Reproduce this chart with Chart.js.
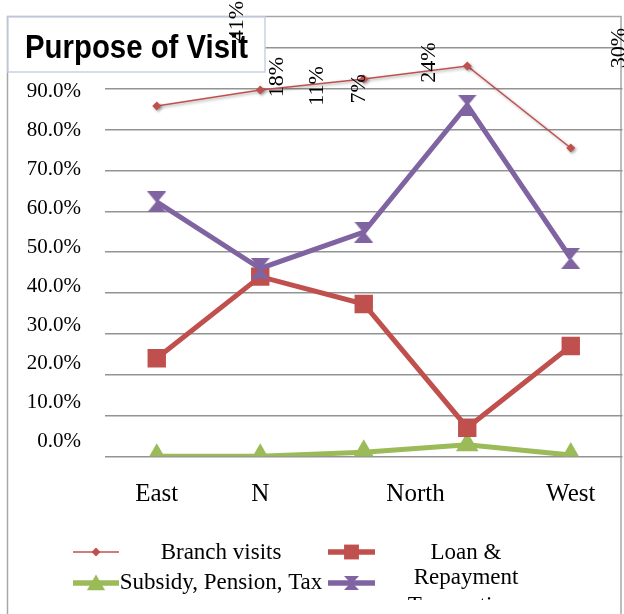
<!DOCTYPE html>
<html>
<head>
<meta charset="utf-8">
<title>Purpose of Visit</title>
<script src="https://cdn.jsdelivr.net/npm/chart.js@4.4.1/dist/chart.umd.min.js"></script>
<style>
  html, body { margin: 0; padding: 0; background: #fff; }
  #wrap { width: 624px; height: 614px; }
</style>
</head>
<body>
<div id="wrap"><canvas id="visitChart" width="624" height="614"></canvas></div>
<script>
// region axis: five stops, four printed names
const regionTickAt = [0, 1, 2.5, 4];
const regionLabels = ['East', 'N', 'North', 'West'];

// share of visits per purpose (fractions)
const branchVisits      = [0.858, 0.897, 0.924, 0.956, 0.755];
const loanRepayment     = [0.240, 0.440, 0.373, 0.070, 0.270];
const subsidyPensionTax = [0.000, 0.000, 0.010, 0.028, 0.003];
const transactions      = [0.623, 0.460, 0.549, 0.860, 0.485];

const percentTicks = [0, 0.1, 0.2, 0.3, 0.4, 0.5, 0.6, 0.7, 0.8, 0.9, 1.0];

// loose vertical labels floating over the top of the plot
const sideLabels = ['41%', '18%', '11%', '7%', '24%', '30%'];
const sideLabelSpots = [[0.78, 1.066], [1.16, 0.929], [1.55, 0.907], [1.96, 0.90], [2.63, 0.964], [4.47, 1.0]];

const RED = '#c0504d', GREEN = '#9bbb59', PURPLE = '#8064a2';
const SERIF = "'Liberation Serif', 'Times New Roman', serif";

function hourglass(color, w, h) {
    const c = document.createElement('canvas');
    c.width = w; c.height = h;
    const g = c.getContext('2d');
    g.fillStyle = color;
    g.beginPath(); g.moveTo(0, 0); g.lineTo(w, 0); g.lineTo(w / 2, h / 2 + 1); g.closePath(); g.fill();
    g.beginPath(); g.moveTo(0, h); g.lineTo(w, h); g.lineTo(w / 2, h / 2 - 1); g.closePath(); g.fill();
    return c;
}
const purpleMark = hourglass(PURPLE, 19, 21);
const purpleMarkSmall = hourglass(PURPLE, 15, 14);

const toPoints = arr => arr.map((v, i) => ({ x: i, y: v }));

// outer frame behind everything
const framePlugin = {
    id: 'frame',
    beforeDraw(chart) {
        const ctx = chart.ctx;
        ctx.save();
        ctx.fillStyle = '#fff';
        ctx.fillRect(0, 0, chart.width, chart.height);
        ctx.strokeStyle = '#a6a6a6';
        ctx.lineWidth = 1.5;
        ctx.strokeRect(7.5, 16.5, 613.5, chart.height + 10);
        ctx.restore();
    }
};

// soft shadow under the thin branch line
const shadowPlugin = {
    id: 'thinShadow',
    beforeDatasetDraw(chart, args) {
        if (args.index !== 0) return;
        const ctx = chart.ctx;
        ctx.save();
        ctx.shadowColor = 'rgba(0,0,0,0.35)';
        ctx.shadowBlur = 3;
        ctx.shadowOffsetX = 1.5;
        ctx.shadowOffsetY = 1.5;
    },
    afterDatasetDraw(chart, args) {
        if (args.index === 0) chart.ctx.restore();
    }
};

// title box, rotated labels and the two-column legend
const overlayPlugin = {
    id: 'overlay',
    afterDraw(chart) {
        const ctx = chart.ctx;
        const xs = chart.scales.x, ys = chart.scales.y;

        ctx.save();
        ctx.fillStyle = '#fff';
        ctx.fillRect(8, 17, 257, 55);
        ctx.strokeStyle = '#c9d1e3';
        ctx.lineWidth = 1.5;
        ctx.strokeRect(8, 17, 257, 55);
        ctx.fillStyle = '#000';
        ctx.font = "bold 33px 'Liberation Sans Narrow', 'Liberation Sans', sans-serif";
        ctx.textBaseline = 'alphabetic';
        ctx.textAlign = 'left';
        ctx.fillText('Purpose of Visit', 25, 58, 223);
        ctx.restore();

        ctx.save();
        ctx.fillStyle = '#000';
        ctx.font = '22px ' + SERIF;
        ctx.textAlign = 'center';
        ctx.textBaseline = 'middle';
        sideLabels.forEach((t, i) => {
            const [vx, vy] = sideLabelSpots[i];
            ctx.save();
            ctx.translate(xs.getPixelForValue(vx), ys.getPixelForValue(vy));
            ctx.rotate(-Math.PI / 2);
            ctx.fillText(t, 0, 0);
            ctx.restore();
        });
        ctx.restore();

        // legend
        ctx.save();
        ctx.beginPath();
        ctx.rect(0, 0, chart.width, 600);
        ctx.clip();
        const ds = chart.data.datasets;
        const entries = [
            { d: ds[0], x0: 73, x1: 119, y: 552, lw: 1.5, mark: 'rectRot', r: 4.5 },
            { d: ds[2], x0: 73, x1: 119, y: 583, lw: 5.5, mark: 'triangle', r: 10.5 },
            { d: ds[1], x0: 328, x1: 375, y: 552, lw: 5.5, mark: 'rect', r: 10.5 },
            { d: ds[3], x0: 328, x1: 375, y: 583, lw: 5.5, mark: 'img' }
        ];
        entries.forEach(e => {
            ctx.strokeStyle = e.d.borderColor;
            ctx.fillStyle = e.d.borderColor;
            ctx.lineWidth = e.lw;
            ctx.beginPath();
            ctx.moveTo(e.x0, e.y);
            ctx.lineTo(e.x1, e.y);
            ctx.stroke();
            const cx = (e.x0 + e.x1) / 2;
            if (e.mark === 'img') {
                ctx.drawImage(purpleMarkSmall, cx - purpleMarkSmall.width / 2, e.y - purpleMarkSmall.height / 2);
            } else {
                Chart.helpers.drawPoint(ctx, { pointStyle: e.mark, radius: e.r, rotation: 0, borderWidth: 0 }, cx, e.y + (e.mark === 'triangle' ? 2 : 0));
            }
        });
        ctx.fillStyle = '#000';
        ctx.font = '23px ' + SERIF;
        ctx.textAlign = 'center';
        ctx.textBaseline = 'middle';
        ctx.fillText(ds[0].label, 221, 553);
        ctx.fillText(ds[2].label, 221, 583);
        ctx.fillText('Loan &', 466, 553);
        ctx.fillText('Repayment', 466, 577.5);
        ctx.fillText(ds[3].label, 466, 606);
        ctx.restore();
    }
};

const ctx = document.getElementById('visitChart').getContext('2d');
const visitChart = new Chart(ctx, {
    type: 'line',
    data: {
        datasets: [
            {
                label: 'Branch visits',
                data: toPoints(branchVisits),
                borderColor: RED,
                backgroundColor: RED,
                borderWidth: 1.5,
                pointStyle: 'rectRot',
                pointRadius: 4.5,
                pointBorderWidth: 0,
                order: 1
            },
            {
                label: 'Loan & Repayment',
                data: toPoints(loanRepayment),
                borderColor: RED,
                backgroundColor: RED,
                borderWidth: 5,
                pointStyle: 'rect',
                pointRadius: 13,
                pointBorderWidth: 0,
                order: 2
            },
            {
                label: 'Subsidy, Pension, Tax',
                data: toPoints(subsidyPensionTax),
                borderColor: GREEN,
                backgroundColor: GREEN,
                borderWidth: 5,
                pointStyle: 'triangle',
                pointRadius: 13,
                pointBorderWidth: 0,
                order: 3
            },
            {
                label: 'Transactions',
                data: toPoints(transactions),
                borderColor: PURPLE,
                backgroundColor: PURPLE,
                borderWidth: 5,
                pointStyle: purpleMark,
                pointBorderWidth: 0,
                order: 0
            }
        ]
    },
    options: {
        responsive: false,
        animation: false,
        events: [],
        layout: { autoPadding: false, padding: { top: 48, right: 1.5, bottom: 0, left: 0 } },
        plugins: {
            legend: { display: false },
            title: { display: false },
            tooltip: { enabled: false }
        },
        scales: {
            x: {
                type: 'linear',
                min: -0.5,
                max: 4.5,
                grid: { display: false },
                border: { display: false },
                afterBuildTicks: axis => { axis.ticks = regionTickAt.map(v => ({ value: v })); },
                afterFit: axis => {
                    axis.height = 157.7;
                    axis.paddingLeft = 0;
                    axis.paddingRight = 0;
                },
                ticks: {
                    autoSkip: false,
                    maxRotation: 0,
                    padding: 15,
                    color: '#000',
                    font: { family: SERIF, size: 25 },
                    callback: v => regionLabels[regionTickAt.indexOf(v)]
                }
            },
            y: {
                position: 'left',
                min: 0,
                max: 1,
                weight: 1,
                border: { display: false },
                grid: { color: '#939393', lineWidth: 1.5, drawTicks: false },
                afterBuildTicks: axis => { axis.ticks = percentTicks.map(v => ({ value: v })); },
                afterFit: axis => { axis.width = 0; },
                ticks: { display: false }
            },
            yLabels: {
                position: 'left',
                min: -0.0375,
                max: 1.0125,
                weight: 0,
                border: { display: false },
                grid: { display: false },
                afterBuildTicks: axis => { axis.ticks = percentTicks.map(v => ({ value: v })); },
                afterFit: axis => { axis.width = 105; },
                ticks: {
                    padding: 16,
                    color: '#000',
                    font: { family: SERIF, size: 21 },
                    callback: v => (v * 100).toFixed(1) + '%'
                }
            }
        }
    },
    plugins: [framePlugin, shadowPlugin, overlayPlugin]
});
</script>
</body>
</html>
